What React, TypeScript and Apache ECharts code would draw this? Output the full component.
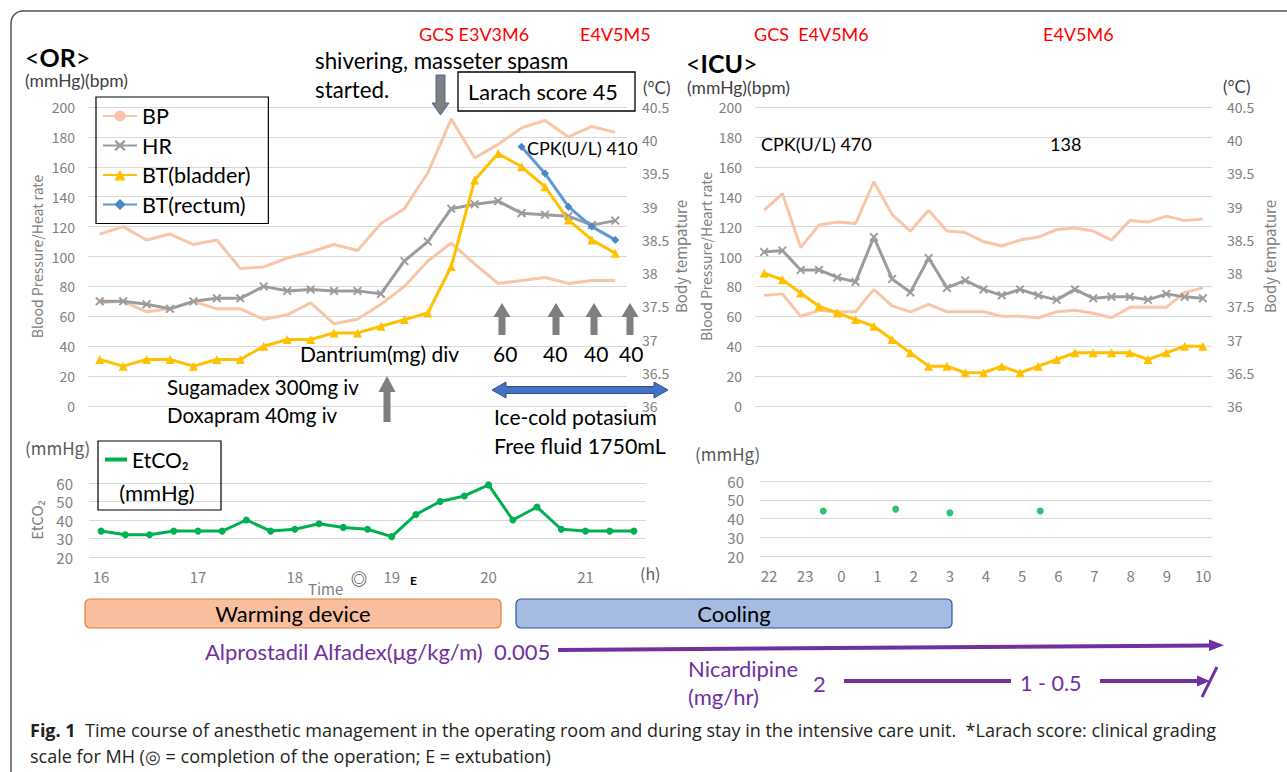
import React, { useEffect, useRef } from 'react';
import * as echarts from 'echarts';

// ---------- DATA ----------
const orTimes = ['16:00','16:15','16:30','16:45','17:00','17:15','17:30','17:45','18:00','18:15','18:30','18:45','19:00','19:15','19:30','19:45','20:00','20:15','20:30','20:45','21:00','21:15','21:30'];
const orBpHigh = [115,120,111,115,108,111,92,93,99,103,108,104,122,132,156,192,166,175,186,191,180,187,183];
const orBpLow = [69,70,63,65,70,65,65,58,61,69,55,58,68,80,97,109,95,82,84,86,82,84,84];
const orHr = [70,70,68,65,70,72,72,80,77,78,77,77,75,97,110,132,135,137,129,128,127,121,124];
const orBtBladder = [36.7,36.6,36.7,36.7,36.6,36.7,36.7,36.9,37.0,37.0,37.1,37.1,37.2,37.3,37.4,38.1,39.4,39.8,39.6,39.3,38.8,38.5,38.3];
const orBtRectum = [null,null,null,null,null,null,null,null,null,null,null,null,null,null,null,null,null,null,39.9,39.5,39.0,38.7,38.5];
const orEtco2 = [34,32,32,34,34,34,40,34,35,38,36,35,31,43,50,53,59,40,47,35,34,34,34];

const icuTimes = ['22:00','22:30','23:00','23:30','0:00','0:30','1:00','1:30','2:00','2:30','3:00','3:30','4:00','4:30','5:00','5:30','6:00','6:30','7:00','7:30','8:00','8:30','9:00','9:30','10:00'];
const icuBpHigh = [131,142,106,121,123,122,150,128,117,131,117,116,110,107,111,113,118,119,117,111,124,123,127,124,125];
const icuBpLow = [74,75,60,64,63,63,78,67,63,68,63,63,63,60,60,59,63,64,62,59,66,66,66,76,79];
const icuHr = [103,104,91,91,86,83,113,85,76,99,79,84,78,74,78,74,71,78,72,73,73,71,75,73,72];
const icuBt = [38.0,37.9,37.7,37.5,37.4,37.3,37.2,37.0,36.8,36.6,36.6,36.5,36.5,36.6,36.5,36.6,36.7,36.8,36.8,36.8,36.8,36.7,36.8,36.9,36.9];
const icuEtco2Times = ['23:30','1:30','3:00','5:30'];
const icuEtco2 = [44,45,43,44];

const orHourTicks = [16,17,18,19,20,21];
const icuHourTicks = [22,23,24,25,26,27,28,29,30,31,32,33,34];

// ---------- helpers ----------
const toHour = (t: string, wrap = false) => {
  const [h, m] = t.split(':').map(Number);
  let v = h + m / 60;
  if (wrap && v < 12) v += 24;
  return v;
};

const FONT = 'Lato, "Open Sans", "Noto Sans", sans-serif';
const AXF = '"Noto Sans CJK JP", "Noto Sans", sans-serif';
const CAPF = '"Open Sans", sans-serif';
const GRIDC = '#d9d9d9';
const TICKC = '#808080';
const BP_C = '#f8c6a6';
const HR_C = '#9c9c9c';
const BT_C = '#ffc000';
const BR_C = '#5b9bd5';
const ET_C = '#00b050';
const PURPLE = '#7030a0';
const X_SYMBOL = 'path://M0,1.5L1.5,0L5,3.5L8.5,0L10,1.5L6.5,5L10,8.5L8.5,10L5,6.5L1.5,10L0,8.5L3.5,5Z';

const txt = (text: string, x: number, y: number, o: any = {}) => ({
  type: 'text', x, y, z: 100,
  style: {
    text, fontSize: o.size || 20, fontFamily: o.font || FONT, fill: o.color || '#000',
    align: o.align || 'left', verticalAlign: 'middle', fontWeight: o.weight || 'normal',
  },
});

const upArrow = (cx: number, top: number, bottom: number, headH = 14, headW = 17, shaftW = 7) => ({
  type: 'polygon', z: 90,
  shape: { points: [[cx, top],[cx + headW/2, top + headH],[cx + shaftW/2, top + headH],[cx + shaftW/2, bottom],[cx - shaftW/2, bottom],[cx - shaftW/2, top + headH],[cx - headW/2, top + headH]] },
  style: { fill: '#7f7f7f' },
});

const bracketTitle = (word: string, x: number, y: number) => ({
  type: 'text', x, y, z: 100,
  style: {
    text: `{a|<}{b|${word}}{a|>}`, verticalAlign: 'middle',
    rich: {
      a: { fontSize: 25, fontFamily: FONT, fill: '#000' },
      b: { fontSize: 25, fontFamily: FONT, fontWeight: 'bold', fill: '#000' },
    },
  },
});

export default function App() {
  const ref = useRef<HTMLDivElement>(null);
  useEffect(() => {
    const chart = echarts.init(ref.current!, null, { renderer: 'svg' });
    const leftAxisBase = {
      type: 'value', min: 0, max: 200, interval: 20,
      axisLine: { show: false }, axisTick: { show: false },
      splitLine: { lineStyle: { color: GRIDC, width: 1 } },
      axisLabel: { color: TICKC, fontSize: 14, margin: 13, fontFamily: AXF },
      nameLocation: 'middle', nameRotate: 90,
      nameTextStyle: { color: TICKC, fontSize: 14, fontFamily: AXF },
    };
    const rightAxisBase = {
      type: 'value', min: 36, max: 40.5, interval: 0.5, position: 'right',
      axisLine: { show: false }, axisTick: { show: false }, splitLine: { show: false },
      axisLabel: { color: TICKC, fontSize: 14, margin: 15, fontFamily: AXF },
      name: 'Body tempature', nameLocation: 'middle', nameRotate: 90,
      nameTextStyle: { color: TICKC, fontSize: 15, fontFamily: AXF },
    };
    const etAxisBase = {
      type: 'value', min: 20, max: 60, interval: 10,
      axisLine: { show: false }, axisTick: { show: false },
      splitLine: { lineStyle: { color: GRIDC, width: 1 } },
      axisLabel: { color: TICKC, fontSize: 15, margin: 16, fontFamily: AXF },
    };
    const lineS = (name: string, data: any[], xi: number, yi: number, color: string, extra: any = {}) => ({
      type: 'line', name, data, xAxisIndex: xi, yAxisIndex: yi,
      lineStyle: { color, width: 3 }, itemStyle: { color },
      symbol: 'none', connectNulls: false, ...extra,
    });

    const option: any = {
      animation: false,
      legend: [
        {
          left: 96, top: 97, orient: 'vertical',
          borderColor: '#000', borderWidth: 1.2, padding: [8, 18, 8, 6],
          itemWidth: 34, itemHeight: 14, itemGap: 7.5,
          textStyle: { fontSize: 21.5, fontFamily: FONT, color: '#000' },
          data: ['BP', 'HR', 'BT(bladder)', 'BT(rectum)'],
          selectedMode: false,
        },
        {
          left: 105, top: 449, orient: 'vertical', padding: 0,
          itemWidth: 22, itemHeight: 4, icon: 'rect',
          textStyle: { fontSize: 21, fontFamily: FONT, color: '#000' },
          data: ['EtCO₂'], selectedMode: false,
        },
      ],
      grid: [
        { left: 88, top: 107, width: 539, height: 299, outerBoundsMode: 'none' },
        { left: 755, top: 107, width: 457, height: 299, outerBoundsMode: 'none' },
        { left: 89, top: 483, width: 557, height: 74, outerBoundsMode: 'none' },
        { left: 760, top: 481, width: 452, height: 75, outerBoundsMode: 'none' },
      ],
      xAxis: [
        { type: 'category', gridIndex: 0, data: orTimes, boundaryGap: true, show: false },
        { type: 'category', gridIndex: 1, data: icuTimes, boundaryGap: true, show: false },
        {
          type: 'value', gridIndex: 2, min: 15.875, max: 21.625,
          axisLine: { show: false }, axisTick: { show: false }, splitLine: { show: false },
          axisLabel: { customValues: orHourTicks, color: TICKC, fontSize: 15, margin: 12, fontFamily: AXF },
        },
        {
          type: 'value', gridIndex: 3, min: 21.75, max: 34.25,
          axisLine: { show: false }, axisTick: { show: false }, splitLine: { show: false },
          axisLabel: { customValues: icuHourTicks, color: TICKC, fontSize: 15, margin: 12, fontFamily: AXF,
            formatter: (v: number) => String(Math.round(v) % 24) },
        },
      ],
      yAxis: [
        { ...leftAxisBase, gridIndex: 0, name: 'Blood Pressure/Heat rate', nameGap: 44 },
        { ...rightAxisBase, gridIndex: 0, nameGap: 44 },
        { ...leftAxisBase, gridIndex: 1, name: 'Blood Pressure/Heart rate', nameGap: 42 },
        { ...rightAxisBase, gridIndex: 1, nameGap: 50 },
        { ...etAxisBase, gridIndex: 2, name: 'EtCO₂', nameLocation: 'middle', nameRotate: 90, nameGap: 45,
          nameTextStyle: { color: TICKC, fontSize: 15, fontFamily: AXF } },
        { ...etAxisBase, gridIndex: 3 },
      ],
      series: [
        lineS('BP', orBpHigh, 0, 0, BP_C),
        lineS('BP', orBpLow, 0, 0, BP_C),
        lineS('HR', orHr, 0, 0, HR_C, { symbol: X_SYMBOL, symbolSize: 9 }),
        lineS('BT(bladder)', orBtBladder, 0, 1, BT_C, { symbol: 'triangle', symbolSize: 9 }),
        lineS('BT(rectum)', orBtRectum, 0, 1, BR_C, { symbol: 'diamond', symbolSize: 8, itemStyle: { color: '#4a86c8' } }),
        lineS('BP', icuBpHigh, 1, 2, BP_C),
        lineS('BP', icuBpLow, 1, 2, BP_C),
        lineS('HR', icuHr, 1, 2, HR_C, { symbol: X_SYMBOL, symbolSize: 9 }),
        lineS('BT(bladder)', icuBt, 1, 3, BT_C, { symbol: 'triangle', symbolSize: 9 }),
        lineS('EtCO₂', orTimes.map((t, i) => [toHour(t), orEtco2[i]]), 2, 4, ET_C, { symbol: 'circle', symbolSize: 7 }),
        {
          type: 'scatter', name: 'EtCO₂', xAxisIndex: 3, yAxisIndex: 5,
          data: icuEtco2Times.map((t, i) => [toHour(t, true), icuEtco2[i]]),
          symbolSize: 7, itemStyle: { color: ET_C },
        },
      ],
      graphic: [
        // frame
        { type: 'rect', shape: { x: 11, y: 11, width: 1300, height: 800, r: 12 }, style: { fill: 'none', stroke: '#555', lineWidth: 1.5 }, z: 1 },
        // headers
        bracketTitle('OR', 25, 57),
        txt('(mmHg)(bpm)', 25, 80, { size: 17.5, color: '#404040' }),
        bracketTitle('ICU', 686, 63),
        txt('(mmHg)(bpm)', 687, 87, { size: 17.5, color: '#404040' }),
        txt('(°C)', 643, 87, { size: 17, color: '#404040' }),
        txt('(°C)', 1223, 86, { size: 17, color: '#404040' }),
        // GCS
        txt('GCS E3V3M6', 419, 34, { size: 18, color: '#ff0000' }),
        txt('E4V5M5', 580, 34, { size: 18, color: '#ff0000' }),
        txt('GCS  E4V5M6', 754, 34, { size: 18, color: '#ff0000' }),
        txt('E4V5M6', 1043, 34, { size: 18, color: '#ff0000' }),
        // shivering
        txt('shivering, masseter spasm', 315, 60, { size: 22.3 }),
        txt('started.', 315, 89, { size: 22.3 }),
        { type: 'polygon', z: 90, shape: { points: [[436,75],[445,75],[445,103],[449,103],[440.5,115],[432,103],[436,103]] }, style: { fill: '#7f7f7f', stroke: '#4f6a94', lineWidth: 1 } },
        // Larach
        { type: 'rect', z: 95, shape: { x: 458, y: 72, width: 177, height: 39 }, style: { fill: 'none', stroke: '#000', lineWidth: 1.3 } },
        txt('Larach score 45', 468, 92, { size: 21.7 }),
        // CPK
        txt('CPK(U/L) 410', 527, 148, { size: 18 }),
        txt('CPK(U/L) 470', 761, 144, { size: 18 }),
        txt('138', 1050, 144, { size: 18 }),
        // Dantrium
        txt('Dantrium(mg) div', 300, 353, { size: 21 }),
        txt('60', 493, 353, { size: 21 }),
        txt('40', 543, 353, { size: 21 }),
        txt('40', 584, 353, { size: 21 }),
        txt('40', 619, 353, { size: 21 }),
        upArrow(502, 303, 335), upArrow(556, 303, 335), upArrow(594, 303, 335), upArrow(630, 303, 335),
        // Sugamadex
        txt('Sugamadex 300mg iv', 167, 387, { size: 20.5 }),
        txt('Doxapram 40mg iv', 167, 415, { size: 20.5 }),
        upArrow(387, 376, 422, 16, 17, 7),
        // cooling double arrow
        { type: 'polygon', z: 90, shape: { points: [[492,390],[506,382],[506,386.5],[654,386.5],[654,382],[668,390],[654,398],[654,393.5],[506,393.5],[506,398]] }, style: { fill: '#4472c4', stroke: '#2f528f', lineWidth: 1 } },
        txt('Ice-cold potasium', 494, 416, { size: 21 }),
        txt('Free fluid 1750mL', 494, 446, { size: 21.4 }),
        // EtCO2 extras
        txt('(mmHg)', 25, 447, { size: 17, color: '#595959', font: AXF }),
        txt('(mmHg)', 695, 453, { size: 17, color: '#595959', font: AXF }),
        txt('(h)', 640, 573, { size: 16, color: '#595959', font: AXF }),
        txt('Time', 308, 588, { size: 15, color: TICKC, font: AXF }),
        txt('◎', 351, 578, { size: 16, color: '#000', font: AXF }),
        txt('E', 410, 580, { size: 12, color: '#000', weight: 'bold' }),
        { type: 'rect', z: 95, shape: { x: 98, y: 441, width: 123, height: 69 }, style: { fill: 'none', stroke: '#000', lineWidth: 1.2 } },
        txt('(mmHg)', 157, 492, { size: 22, align: 'center' }),
        // boxes
        { type: 'rect', z: 50, shape: { x: 85, y: 599, width: 416, height: 29, r: 5 }, style: { fill: '#f7bf9d', stroke: '#ed7d31', lineWidth: 1.2 } },
        txt('Warming device', 293, 613.5, { size: 22, align: 'center' }),
        { type: 'rect', z: 50, shape: { x: 516, y: 599, width: 436, height: 29, r: 5 }, style: { fill: '#a6bbe2', stroke: '#2f5597', lineWidth: 1.2 } },
        txt('Cooling', 734, 613.5, { size: 22, align: 'center' }),
        // Alprostadil
        txt('Alprostadil Alfadex(μg/kg/m)  0.005', 205, 651, { size: 22, color: PURPLE }),
        { type: 'line', z: 90, shape: { x1: 558, y1: 650, x2: 1212, y2: 645.5 }, style: { stroke: PURPLE, lineWidth: 4 } },
        { type: 'polygon', z: 90, shape: { points: [[1209,639.5],[1224,645.3],[1209,651]] }, style: { fill: PURPLE } },
        // Nicardipine
        txt('Nicardipine', 688, 668, { size: 22, color: PURPLE }),
        txt('(mg/hr)', 688, 696, { size: 22, color: PURPLE }),
        txt('2', 813, 683, { size: 22, color: PURPLE }),
        { type: 'line', z: 90, shape: { x1: 844, y1: 681, x2: 1011, y2: 681 }, style: { stroke: PURPLE, lineWidth: 4 } },
        txt('1 - 0.5', 1020, 683, { size: 21.5, color: PURPLE }),
        { type: 'line', z: 90, shape: { x1: 1100, y1: 681, x2: 1200, y2: 681 }, style: { stroke: PURPLE, lineWidth: 4 } },
        { type: 'polygon', z: 90, shape: { points: [[1197,675.5],[1210,681],[1197,686.5]] }, style: { fill: PURPLE } },
        { type: 'line', z: 90, shape: { x1: 1217, y1: 667, x2: 1202, y2: 697 }, style: { stroke: PURPLE, lineWidth: 3 } },
        // caption
        { type: 'text', x: 30, y: 730, z: 100, style: { text: '{b|Fig. 1}  Time course of anesthetic management in the operating room and during stay in the intensive care unit.  *Larach score: clinical grading', verticalAlign: 'middle', fontSize: 18, fontFamily: CAPF, fill: '#231f20', rich: { b: { fontSize: 18, fontWeight: 'bold', fontFamily: CAPF, fill: '#231f20' } } } },
        txt('scale for MH (◎ = completion of the operation; E = extubation)', 30, 756, { size: 18, font: CAPF, color: '#231f20' }),
      ],
    };
    chart.setOption(option);
    return () => chart.dispose();
  }, []);
  return <div ref={ref} style={{ position: 'absolute', left: 0, top: 0, width: 1287, height: 772, background: '#fff' }} />;
}
